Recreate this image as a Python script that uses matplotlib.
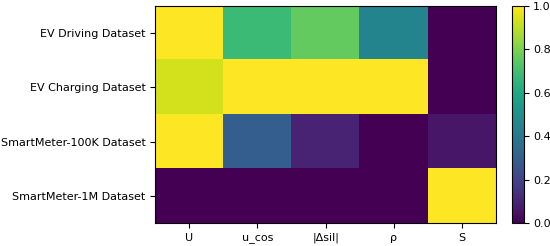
import numpy as np
import matplotlib
matplotlib.use("Agg")
import matplotlib.pyplot as plt

datasets = ["EV Driving Dataset", "EV Charging Dataset",
            "SmartMeter-100K Dataset", "SmartMeter-1M Dataset"]
metrics = ["U", "u_cos", "|Δsil|", "ρ", "S"]

ev_driving = [1.0, 0.68, 0.76, 0.45, 0.0]
ev_charging = [0.93, 1.0, 1.0, 1.0, 0.0]
sm_100k = [1.0, 0.30, 0.10, 0.0, 0.06]
sm_1m = [0.0, 0.0, 0.0, 0.0, 1.0]

vals = np.array([ev_driving, ev_charging, sm_100k, sm_1m])

fig = plt.figure(figsize=(5.5, 2.46), dpi=100)
ax = fig.add_axes([0.282, 0.093, 0.620, 0.883])
cax = fig.add_axes([0.931, 0.093, 0.021, 0.883])

im = ax.imshow(vals, cmap="viridis", vmin=0, vmax=1, aspect="auto")
ax.set_xticks(range(len(metrics)))
ax.set_xticklabels(metrics, fontsize=8)
ax.set_yticks(range(len(datasets)))
ax.set_yticklabels(datasets, fontsize=8)

cb = fig.colorbar(im, cax=cax)
cb.ax.tick_params(labelsize=8)

fig.savefig("out.png", dpi=100)
